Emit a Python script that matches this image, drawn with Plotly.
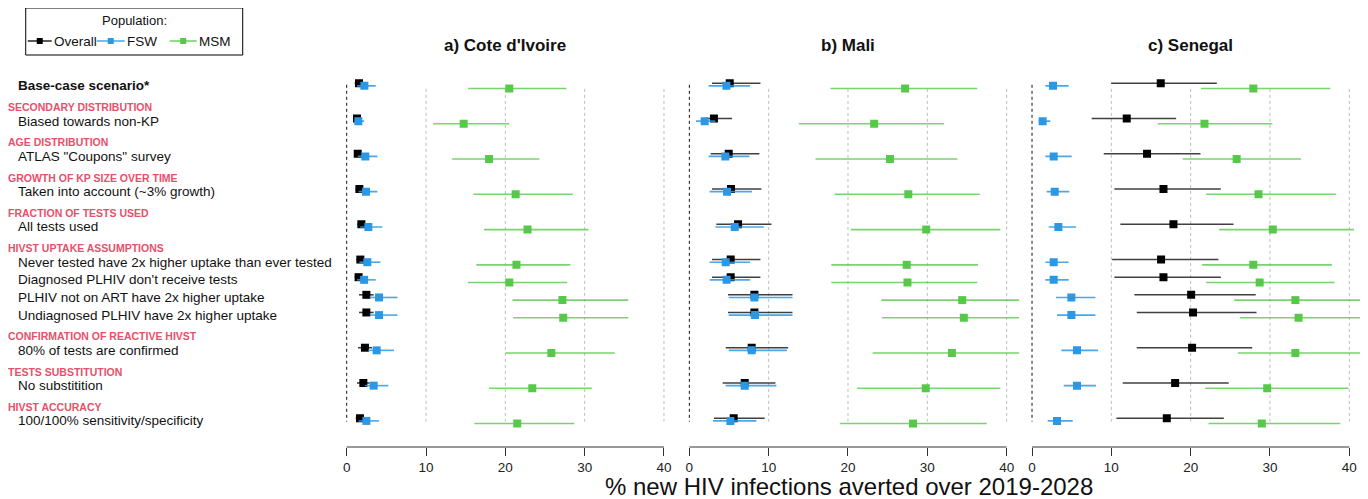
import plotly.graph_objects as go

# ---------------- data ----------------
countries = ["a) Cote d'Ivoire", "b) Mali", "c) Senegal"]
populations = ["Overall", "FSW", "MSM"]

group_headers = [None, "SECONDARY DISTRIBUTION", "AGE DISTRIBUTION", "GROWTH OF KP SIZE OVER TIME",
                 "FRACTION OF TESTS USED", "HIVST UPTAKE ASSUMPTIONS", "CONFIRMATION OF REACTIVE HIVST",
                 "TESTS SUBSTITUTION", "HIVST ACCURACY"]
group_items = [
    ["Base-case scenario*"],
    ["Biased towards non-KP"],
    ['ATLAS "Coupons" survey'],
    ["Taken into account (~3% growth)"],
    ["All tests used"],
    ["Never tested have 2x higher uptake than ever tested", "Diagnosed PLHIV don't receive tests",
     "PLHIV not on ART have 2x higher uptake", "Undiagnosed PLHIV have 2x higher uptake"],
    ["80% of tests are confirmed"],
    ["No substitition"],
    ["100/100% sensitivity/specificity"],
]

# Cote d'Ivoire
civ_overall = [1.55, 1.3, 1.39, 1.6, 1.85, 1.72, 1.5, 2.48, 2.48, 2.3, 2.1, 1.68]
civ_overall_lo = [1.0, 0.9, 0.95, 1.1, 1.3, 1.2, 1.0, 1.55, 1.55, 1.43, 1.3, 1.13]
civ_overall_hi = [2.2, 1.8, 2.0, 2.2, 2.5, 2.4, 2.1, 3.4, 3.4, 3.2, 2.9, 2.3]
civ_fsw = [2.23, 1.47, 2.35, 2.44, 2.73, 2.6, 2.2, 4.08, 4.08, 3.78, 3.4, 2.48]
civ_fsw_lo = [1.3, 1.0, 1.4, 1.5, 1.7, 1.6, 1.3, 2.9, 2.9, 2.7, 2.3, 1.5]
civ_fsw_hi = [3.66, 2.2, 3.87, 3.87, 4.5, 4.25, 3.66, 6.4, 6.4, 5.97, 5.25, 4.07]
civ_msm = [20.5, 14.75, 17.95, 21.3, 22.8, 21.4, 20.5, 27.2, 27.3, 25.8, 23.4, 21.5]
civ_msm_lo = [15.3, 10.9, 13.3, 15.97, 17.3, 16.35, 15.3, 20.9, 21.0, 20.0, 17.95, 16.1]
civ_msm_hi = [27.7, 20.5, 24.3, 28.5, 30.5, 28.2, 27.8, 35.5, 35.5, 33.8, 30.9, 28.7]

# Mali
mli_overall = [5.09, 3.1, 4.96, 5.25, 6.14, 5.21, 5.21, 8.2, 8.2, 7.86, 6.98, 5.59]
mli_overall_lo = [2.86, 2.0, 2.69, 2.86, 3.4, 2.86, 2.86, 4.87, 4.87, 4.58, 4.2, 3.1]
mli_overall_hi = [8.96, 5.38, 8.83, 9.08, 10.35, 8.96, 8.96, 13.0, 13.0, 12.45, 10.85, 9.5]
mli_fsw = [4.67, 1.93, 4.54, 4.75, 5.72, 4.58, 4.7, 8.2, 8.28, 7.86, 6.98, 5.17]
mli_fsw_lo = [2.43, 0.84, 2.43, 2.56, 3.28, 2.56, 2.56, 4.96, 4.96, 4.96, 4.58, 2.98]
mli_fsw_hi = [7.65, 3.28, 7.57, 7.9, 9.38, 7.65, 7.65, 13.0, 13.0, 12.3, 10.97, 8.45]
mli_msm = [27.2, 23.3, 25.3, 27.6, 29.86, 27.4, 27.5, 34.4, 34.6, 33.1, 29.8, 28.2]
mli_msm_lo = [17.8, 13.8, 15.9, 18.3, 20.35, 17.9, 17.9, 24.2, 24.3, 23.1, 21.15, 19.0]
mli_msm_hi = [36.3, 32.1, 33.8, 36.6, 39.2, 36.4, 36.3, 44.5, 44.8, 43.2, 39.2, 37.5]

# Senegal
sen_overall = [16.23, 11.94, 14.5, 16.57, 17.83, 16.27, 16.57, 20.06, 20.3, 20.18, 18.04, 16.99]
sen_overall_lo = [9.97, 7.52, 9.04, 10.38, 11.14, 10.1, 10.38, 12.9, 13.2, 13.2, 11.44, 10.64]
sen_overall_hi = [23.3, 18.17, 21.24, 23.8, 25.4, 23.5, 23.8, 28.2, 28.3, 27.76, 24.8, 24.18]
sen_fsw = [2.65, 1.34, 2.73, 2.86, 3.32, 2.73, 2.73, 4.96, 4.96, 5.67, 5.67, 3.15]
sen_fsw_lo = [1.68, 0.84, 1.68, 1.85, 2.1, 1.68, 1.68, 3.03, 3.15, 3.7, 4.0, 1.98]
sen_fsw_hi = [4.62, 2.31, 5.0, 4.7, 5.55, 4.62, 4.62, 7.99, 7.99, 8.33, 8.07, 5.13]
sen_msm = [27.9, 21.74, 25.8, 28.55, 30.36, 27.9, 28.7, 33.2, 33.6, 33.2, 29.65, 28.97]
sen_msm_lo = [21.3, 15.85, 19.0, 21.95, 23.6, 21.45, 21.95, 25.5, 26.2, 25.95, 21.83, 22.25]
sen_msm_hi = [37.6, 30.3, 33.9, 38.3, 40.6, 37.8, 38.15, 42.5, 42.8, 42.3, 39.9, 38.86]

x_ticks = [0, 10, 20, 30, 40]
x_title = "% new HIV infections averted over 2019-2028"

# ---------------- layout helpers ----------------
# the page body adds an 8px margin, so the figure is placed at (8, 8)
OFF = 8
W, H = 1368 - OFF, 499 - OFF
PL, PR, PT, PB = 334.3 - OFF, 1362.4 - OFF, 70.0 - OFF, 447.0 - OFF
XR = [-1.6, 41.6]
YR = [20.48, -0.9]


def px2x(px):  # px in screen coords
    return (px - OFF - PL) / (PR - PL)


def px2y(py):
    return (PB - (py - OFF)) / (PB - PT)


# row positions
rows, header_rows = [], []
pos = 0
for g, items in enumerate(group_items):
    if g > 0:
        pos += 2
    header_rows.append(pos - 0.8)
    for k, it in enumerate(items):
        if k > 0:
            pos += 1
        rows.append(pos)
labels = [it for items in group_items for it in items]

panel_data = [
    [(civ_overall, civ_overall_lo, civ_overall_hi), (civ_fsw, civ_fsw_lo, civ_fsw_hi), (civ_msm, civ_msm_lo, civ_msm_hi)],
    [(mli_overall, mli_overall_lo, mli_overall_hi), (mli_fsw, mli_fsw_lo, mli_fsw_hi), (mli_msm, mli_msm_lo, mli_msm_hi)],
    [(sen_overall, sen_overall_lo, sen_overall_hi), (sen_fsw, sen_fsw_lo, sen_fsw_hi), (sen_msm, sen_msm_lo, sen_msm_hi)],
]
marker_colors = ["#000000", "#2B98E6", "#57C84A"]
line_colors = ["rgba(30,30,30,0.85)", "rgba(43,152,230,0.85)", "rgba(87,200,74,0.8)"]
offsets = [-0.15, 0.0, 0.15]

fig = go.Figure()
for p in range(3):
    xa = "x" if p == 0 else f"x{p+1}"
    ya = "y" if p == 0 else f"y{p+1}"
    for k in range(3):
        vals, lo, hi = panel_data[p][k]
        hi_c = [min(h, XR[1]) for h in hi]
        fig.add_trace(go.Scatter(
            x=vals, y=[r + offsets[k] for r in rows], xaxis=xa, yaxis=ya,
            mode="markers", showlegend=False, name=populations[k],
            marker=dict(symbol="square", size=8, color=marker_colors[k], line=dict(width=0)),
            error_x=dict(type="data", symmetric=False,
                         array=[h - v for h, v in zip(hi_c, vals)],
                         arrayminus=[v - l for v, l in zip(vals, lo)],
                         color=line_colors[k], thickness=1.6, width=0),
        ))

dom_w = 1.0 / 3
layout = dict(
    width=W, height=H, autosize=False,
    margin=dict(l=PL, r=W - PR, t=PT, b=H - PB, pad=0),
    plot_bgcolor="white", paper_bgcolor="white",
    font=dict(family="Liberation Sans, Arial, sans-serif", color="#000"),
)
shapes, annotations = [], []
for p in range(3):
    sfx = "" if p == 0 else str(p + 1)
    layout[f"xaxis{sfx}"] = dict(domain=[p * dom_w, (p + 1) * dom_w], range=XR, anchor=f"y{sfx}",
                                 showgrid=False, zeroline=False, showline=False,
                                 tickmode="array", tickvals=x_ticks, ticks="outside", ticklen=8,
                                 tickwidth=1, tickcolor="#333", tickfont=dict(size=13.5, color="#222"))
    layout[f"yaxis{sfx}"] = dict(domain=[0, 1], range=YR, anchor=f"x{sfx}", visible=False)
    xr = f"x{sfx}"
    yr = f"y{sfx}"
    # axis line from 0 to 40
    shapes.append(dict(type="line", xref=xr, yref="paper", x0=x_ticks[0], x1=x_ticks[-1], y0=0, y1=0,
                       line=dict(color="#333", width=1)))
    # grid dotted lines
    for t in x_ticks[1:]:
        shapes.append(dict(type="line", xref=xr, yref=yr, x0=t, x1=t, y0=0.17, y1=19.04,
                           line=dict(color="#BDBDBD", width=1, dash="dot"), layer="below"))
    shapes.append(dict(type="line", xref=xr, yref=yr, x0=0, x1=0, y0=-0.06, y1=19.04,
                       line=dict(color="#111", width=1, dash="dot"), layer="below"))
    annotations.append(dict(text=f"<b>{countries[p]}</b>", xref=xr, yref="paper", x=20, y=px2y(45),
                            showarrow=False, font=dict(size=17, color="#111"), xanchor="center", yanchor="middle"))

# left labels
for lab, r, in zip(labels, rows):
    txt = f"<b>{lab}</b>" if r == 0 else lab
    annotations.append(dict(text=txt, xref="paper", yref="y", x=px2x(16), y=r, showarrow=False,
                            xanchor="left", yanchor="middle", font=dict(size=13.5, color="#111")))
for hdr, hr in zip(group_headers, header_rows):
    if hdr is None:
        continue
    annotations.append(dict(text=f"<b>{hdr}</b>", xref="paper", yref="y", x=px2x(6), y=hr, showarrow=False,
                            xanchor="left", yanchor="middle", font=dict(size=10.5, color="#E8506A")))

# x axis title
annotations.append(dict(text=x_title, xref="paper", yref="paper", x=px2x(849), y=px2y(486), showarrow=False,
                        xanchor="center", yanchor="middle", font=dict(size=24, color="#111")))

# legend (manual, R-style box)
shapes.append(dict(type="rect", xref="paper", yref="paper", x0=px2x(26), x1=px2x(243), y0=px2y(55), y1=px2y(8),
                   line=dict(color="#000", width=1), fillcolor="white"))
annotations.append(dict(text="Population:", xref="paper", yref="paper", x=px2x(135), y=px2y(21),
                        showarrow=False, xanchor="center", yanchor="middle", font=dict(size=13, color="#111")))
leg_pos = [(28, 52, "Overall"), (97, 125, "FSW"), (170, 197, "MSM")]
for (a, b, name), mc in zip(leg_pos, marker_colors):
    shapes.append(dict(type="line", xref="paper", yref="paper", x0=px2x(a), x1=px2x(b), y0=px2y(41), y1=px2y(41),
                       line=dict(color=mc, width=1.3)))
    cx = (a + b) / 2
    shapes.append(dict(type="rect", xref="paper", yref="paper", x0=px2x(cx - 3), x1=px2x(cx + 3),
                       y0=px2y(44), y1=px2y(38), line=dict(width=0), fillcolor=mc))
    annotations.append(dict(text=name, xref="paper", yref="paper", x=px2x(b + 0.5), y=px2y(41), showarrow=False,
                            xanchor="left", yanchor="middle", font=dict(size=13.5, color="#111")))

layout["shapes"] = shapes
layout["annotations"] = annotations
fig.update_layout(**layout)
fig.write_html("out.html")
